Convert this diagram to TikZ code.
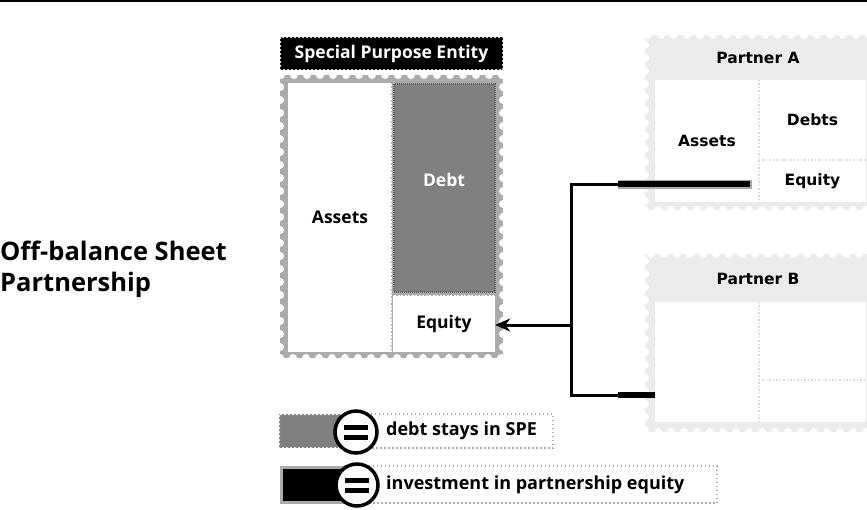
\documentclass[tikz,border=0pt]{standalone}
\usepackage{fontspec}
\setmainfont{Open Sans}
\newfontfamily\partnerfont{DejaVu Sans}
\usetikzlibrary{arrows.meta}
\definecolor{speframe}{HTML}{ABABAB}
\definecolor{debtgray}{HTML}{808080}
\definecolor{partnerframe}{HTML}{EBEBEB}
\definecolor{partnerline}{HTML}{D8D8D8}

\tikzset{
  stamp/.style={fill=#1, draw=white, line width=8pt, dash pattern=on 0pt off 13pt, line cap=round, inner sep=0pt},
  stampfine/.style={fill=#1, draw=white, line width=2.5pt, dash pattern=on 0pt off 4pt, line cap=round, inner sep=0pt},
  cell/.style={fill=white, inner sep=0pt},
  spetext/.style={font=\bfseries\fontsize{17.5}{21}\selectfont},
  partnertext/.style={font=\partnerfont\bfseries\fontsize{15.5}{18}\selectfont},
  divider/.style={draw=#1, line width=1.5pt, dash pattern=on 1.5pt off 2pt},
  dotbox/.style={draw=speframe, line width=1.5pt, dash pattern=on 1.5pt off 2.5pt, inner sep=0pt},
  link/.style={line width=3pt},
  stake/.style={line width=6.5pt},
  keytext/.style={font=\bfseries\fontsize{18}{22}\selectfont, inner sep=0pt},
  equals/.style={circle, draw=black, line width=3.5pt, fill=white, minimum size=42pt, inner sep=0pt,
    path picture={
      \fill[black] ([shift={(-12pt,2.5pt)}]path picture bounding box.center) rectangle ([shift={(12pt,7.5pt)}]path picture bounding box.center);
      \fill[black] ([shift={(-12pt,-7.5pt)}]path picture bounding box.center) rectangle ([shift={(12pt,-2.5pt)}]path picture bounding box.center);
    }},
}

\begin{document}
\begin{tikzpicture}[x=1pt, y=-1pt]
  \clip (0,0) rectangle (867,509);
  \draw[line width=2pt] (0,1) -- (867,1);

  \node[anchor=west, align=left, inner sep=0pt, font=\bfseries\fontsize{25.5}{31}\selectfont] (title) at (0,269) {Off-balance Sheet\\Partnership};

  % special purpose entity
  \node[stampfine=black, minimum width=223, minimum height=33, text=white, spetext] (spetitle) at (391.5,53.5) {Special Purpose Entity};
  \node[stamp=speframe, minimum width=223, minimum height=283] (spe) at (391.5,216.5) {};
  \node[cell, minimum width=104, minimum height=269, spetext] (assets) at (340,217.5) {Assets};
  \node[cell, fill=debtgray, draw=debtgray!75!black, line width=2pt, dash pattern=on 1pt off 1pt, minimum width=101, minimum height=208] (debt) at (444,187.5) {};
  \node[spetext, text=white] (debtlabel) at (444,180) {Debt};
  \node[cell, minimum width=102, minimum height=57, spetext] (equity) at (444,323.5) {Equity};
  \draw[divider=speframe] (assets.north east) -- (assets.south east);
  \draw[divider=speframe] (equity.north west) -- (equity.north east);

  % partner A
  \node[stamp=partnerframe, minimum width=226, minimum height=175] (pa) at (758,122.5) {};
  \node[partnertext] (palabel) at (758,58) {Partner A};
  \node[cell, minimum width=104, minimum height=122, partnertext] (paassets) at (707,141) {Assets};
  \node[cell, minimum width=107, minimum height=80, partnertext] (padebts) at (812.5,120) {Debts};
  \node[cell, minimum width=107, minimum height=42, partnertext] (paequity) at (812.5,181) {Equity};
  \draw[divider=partnerline] (paassets.north east) -- (paassets.south east);
  \draw[divider=partnerline] (paequity.north west) -- (paequity.north east);

  % partner B
  \node[stamp=partnerframe, minimum width=226, minimum height=178] (pb) at (758,343) {};
  \node[partnertext] (pblabel) at (758,279) {Partner B};
  \node[cell, minimum width=104, minimum height=120] (pbassets) at (707,362) {};
  \node[cell, minimum width=107, minimum height=78] (pbdebts) at (812.5,341) {};
  \node[cell, minimum width=107, minimum height=42] (pbequity) at (812.5,401) {};
  \draw[divider=partnerline] (pbassets.north east) -- (pbassets.south east);
  \draw[divider=partnerline] (pbequity.north west) -- (pbequity.north east);

  % connectors
  \coordinate (ja) at (571,184);
  \coordinate (jb) at (571,395);
  \coordinate (jm) at (571,325);
  \coordinate (ka) at (618,184);
  \coordinate (kb) at (618,395);
  \draw[link] (ka) -- (ja) -- (jb) -- (kb);
  \draw[line width=9pt, speframe] (ka) -- ([xshift=-7pt]ka -| paequity.west);
  \draw[stake] (ka) -- ([xshift=-9pt]ka -| paequity.west);
  \draw[stake] (kb) -- (kb -| pbassets.west);
  \draw[link, -{Stealth[length=15pt, width=13pt]}] (jm) -- (jm -| equity.east);

  % key
  \node[dotbox, minimum width=213, minimum height=34] (key1box) at (446.5,431) {};
  \node[keytext, anchor=west] (key1text) at (386,431) {debt stays in SPE};
  \node[stampfine=debtgray, minimum width=62, minimum height=34] (key1swatch) at (310,431) {};
  \node[equals] (key1eq) at (356,432) {};

  \node[dotbox, minimum width=372, minimum height=37] (key2box) at (531,484.5) {};
  \node[keytext, anchor=west] (key2text) at (386,484.5) {investment in partnership equity};
  \node[fill=black, draw=speframe, line width=3pt, minimum width=63, minimum height=35] (key2swatch) at (312.5,484.5) {};
  \node[equals] (key2eq) at (357,485) {};
\end{tikzpicture}
\end{document}
